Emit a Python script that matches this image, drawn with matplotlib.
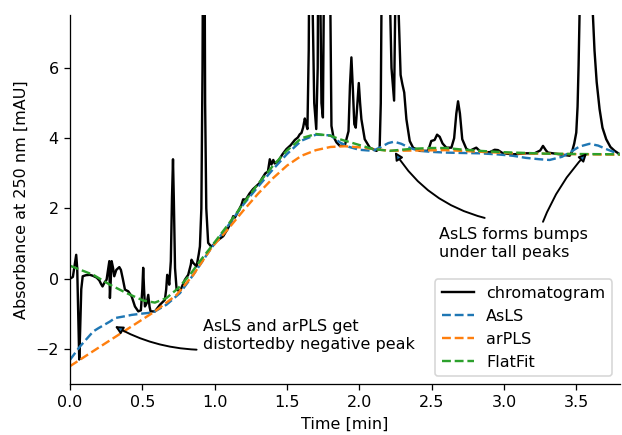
import matplotlib
matplotlib.use('Agg')
import matplotlib.pyplot as plt

# ---------------- data ----------------
chrom_t = [0.000, 0.020, 0.035, 0.043, 0.050, 0.058, 0.064, 0.070, 0.078, 0.088,
           0.110, 0.138, 0.160, 0.185, 0.203, 0.215, 0.225, 0.240, 0.253, 0.265,
           0.272, 0.276, 0.282, 0.288, 0.298, 0.306, 0.320, 0.341, 0.352, 0.365,
           0.380, 0.403, 0.426, 0.449, 0.472, 0.490, 0.500, 0.506, 0.512, 0.518,
           0.530, 0.541, 0.550, 0.557, 0.587, 0.622, 0.656, 0.665, 0.672, 0.680,
           0.686, 0.697, 0.705, 0.712, 0.718, 0.726, 0.737, 0.760, 0.794, 0.817,
           0.835, 0.840, 0.852, 0.875, 0.890, 0.898, 0.908, 0.916, 0.922, 0.928,
           0.934, 0.942, 0.955, 0.975, 0.990, 1.000, 1.030, 1.059, 1.090, 1.115,
           1.128, 1.140, 1.160, 1.185, 1.197, 1.215, 1.240, 1.265, 1.289, 1.310,
           1.324, 1.350, 1.368, 1.381, 1.392, 1.405, 1.415, 1.439, 1.470, 1.496,
           1.525, 1.554, 1.575, 1.588, 1.600, 1.611, 1.623, 1.632, 1.641, 1.650,
           1.658, 1.668, 1.676, 1.688, 1.702, 1.712, 1.720, 1.728, 1.738, 1.748,
           1.753, 1.760, 1.767, 1.776, 1.784, 1.792, 1.800, 1.807, 1.820, 1.842,
           1.865, 1.900, 1.925, 1.935, 1.945, 1.955, 1.965, 1.975, 1.985, 1.996,
           2.005, 2.014, 2.037, 2.072, 2.118, 2.140, 2.148, 2.155, 2.170, 2.200,
           2.214, 2.222, 2.240, 2.250, 2.262, 2.272, 2.285, 2.297, 2.310, 2.325,
           2.348, 2.371, 2.417, 2.475, 2.497, 2.520, 2.537, 2.555, 2.575, 2.601,
           2.636, 2.655, 2.670, 2.682, 2.695, 2.711, 2.739, 2.762, 2.808, 2.831,
           2.854, 2.900, 2.935, 2.958, 2.992, 3.062, 3.154, 3.211, 3.250, 3.269,
           3.290, 3.303, 3.384, 3.453, 3.470, 3.485, 3.499, 3.508, 3.515, 3.522,
           3.535, 3.555, 3.575, 3.600, 3.614, 3.625, 3.640, 3.660, 3.680, 3.706,
           3.735, 3.764, 3.800]
chrom_y = [0.00, 0.05, 0.45, 0.68, 0.30, -1.20, -2.30, -1.50, -0.30, 0.07,
           0.10, 0.11, 0.08, 0.03, -0.05, -0.15, -0.22, -0.10, -0.03, 0.30,
           0.50, -0.55, 0.00, 0.50, 0.30, 0.07, 0.25, 0.33, 0.25, 0.00,
           -0.31, -0.36, -0.50, -0.79, -0.93, -0.90, -0.30, 0.31, -0.30, -0.79,
           -0.70, -0.46, -0.80, -0.93, -0.93, -0.74, -0.60, -0.30, 0.11, 0.00,
           -0.17, 0.50, 2.30, 3.40, 2.20, 0.30, -0.31, -0.36, -0.03, 0.11,
           0.40, 0.54, 0.45, 0.35, 0.70, 0.92, 2.00, 6.00, 12.0, 12.0,
           5.00, 2.00, 1.02, 0.92, 0.95, 1.02, 1.12, 1.21, 1.42, 1.62,
           1.78, 1.74, 1.90, 2.10, 2.26, 2.25, 2.42, 2.55, 2.64, 2.72,
           2.83, 3.00, 3.05, 3.40, 3.25, 3.38, 3.28, 3.35, 3.55, 3.69,
           3.80, 3.95, 4.02, 4.11, 4.15, 4.30, 4.56, 4.40, 4.26, 6.50,
           12.0, 14.0, 8.00, 5.00, 4.26, 6.00, 13.0, 9.00, 5.00, 4.59,
           7.00, 12.0, 9.00, 8.00, 10.0, 12.0, 7.50, 4.35, 4.05, 3.88,
           3.78, 3.80, 4.20, 5.50, 6.30, 5.40, 4.40, 4.30, 4.90, 5.57,
           5.00, 4.54, 3.97, 3.73, 3.64, 3.70, 5.00, 9.00, 14.0, 10.0,
           7.50, 6.00, 5.07, 8.50, 10.0, 7.50, 5.80, 5.54, 5.30, 4.54,
           3.92, 3.73, 3.64, 3.64, 3.92, 3.95, 4.10, 4.04, 3.85, 3.73,
           3.73, 4.00, 4.70, 5.05, 4.70, 3.97, 3.70, 3.64, 3.73, 3.64,
           3.61, 3.60, 3.67, 3.66, 3.57, 3.54, 3.57, 3.57, 3.65, 3.78,
           3.65, 3.59, 3.54, 3.50, 3.62, 3.85, 4.16, 4.90, 6.07, 7.50,
           11.0, 14.0, 12.0, 8.60, 7.50, 6.50, 5.60, 4.83, 4.30, 3.97,
           3.75, 3.64, 3.54]

asls_t = [0.000, 0.069, 0.161, 0.196, 0.276, 0.311, 0.391, 0.426, 0.506, 0.552,
          0.587, 0.667, 0.760, 0.852, 0.978, 1.100, 1.200, 1.300, 1.400, 1.500,
          1.600, 1.700, 1.800, 1.865, 1.930, 2.000, 2.094, 2.150, 2.200, 2.240,
          2.290, 2.350, 2.417, 2.500, 2.600, 2.700, 2.830, 2.950, 3.060, 3.150,
          3.246, 3.315, 3.400, 3.453, 3.520, 3.590, 3.650, 3.706, 3.800]
asls_y = [-2.31, -1.93, -1.50, -1.41, -1.22, -1.12, -1.06, -1.03, -0.99, -0.97,
          -0.93, -0.74, -0.41, 0.11, 0.88, 1.55, 2.12, 2.62, 3.10, 3.55,
          3.93, 4.10, 4.08, 3.88, 3.75, 3.67, 3.64, 3.75, 3.86, 3.90,
          3.84, 3.72, 3.64, 3.61, 3.59, 3.58, 3.57, 3.54, 3.50, 3.44,
          3.40, 3.38, 3.47, 3.59, 3.76, 3.84, 3.79, 3.69, 3.54]

arpls_t = [0.000, 0.161, 0.391, 0.587, 0.737, 0.852, 0.978, 1.100, 1.200, 1.300,
           1.400, 1.500, 1.600, 1.700, 1.800, 1.900, 2.000, 2.100, 2.210, 2.400,
           2.600, 2.800, 3.060, 3.400, 3.800]
arpls_y = [-2.49, -2.06, -1.45, -0.93, -0.46, 0.11, 0.88, 1.45, 1.95, 2.42,
           2.85, 3.22, 3.50, 3.66, 3.75, 3.77, 3.74, 3.69, 3.64, 3.65,
           3.66, 3.62, 3.57, 3.55, 3.53]

flat_t = [0.000, 0.161, 0.276, 0.391, 0.506, 0.587, 0.667, 0.748, 0.829, 0.898,
          0.978, 1.100, 1.200, 1.300, 1.400, 1.500, 1.600, 1.700, 1.800, 1.865,
          1.980, 2.094, 2.210, 2.371, 2.500, 2.600, 2.700, 2.830, 3.000, 3.290,
          3.500, 3.800]
flat_y = [0.37, 0.11, -0.17, -0.41, -0.62, -0.68, -0.55, -0.27, 0.11, 0.50,
          0.92, 1.58, 2.15, 2.70, 3.20, 3.65, 4.00, 4.12, 4.07, 3.97,
          3.83, 3.69, 3.64, 3.70, 3.72, 3.72, 3.68, 3.64, 3.60, 3.56,
          3.55, 3.54]

x_ticks = [0.0, 0.5, 1.0, 1.5, 2.0, 2.5, 3.0, 3.5]
y_ticks = [-2, 0, 2, 4, 6]

# ---------------- figure ----------------
DPI = 115
fig = plt.figure(figsize=(622 / DPI, 435 / DPI), dpi=DPI)
ax = fig.add_axes([0.1125, 0.117, 0.884, 0.848])

ax.plot(chrom_t, chrom_y, color='black', label='chromatogram')
ax.plot(asls_t, asls_y, '--', color='C0', label='AsLS')
ax.plot(arpls_t, arpls_y, '--', color='C1', label='arPLS')
ax.plot(flat_t, flat_y, '--', color='C2', label='FlatFit')

ax.set_xlim(0, 3.8)
ax.set_ylim(-3, 7.5)
ax.set_xticks(x_ticks)
ax.set_yticks(y_ticks)
ax.spines['top'].set_visible(False)
ax.spines['right'].set_visible(False)
ax.set_xlabel('Time [min]')
ax.set_ylabel('Absorbance at 250 nm [mAU]')

ax.legend(loc='lower right')

arrow_kw = dict(arrowstyle='-|>', fc='C0', ec='black', lw=1.2,
                shrinkA=0, shrinkB=0)
ax.text(0.92, -1.62, 'AsLS and arPLS get\ndistortedby negative peak',
        ha='left', va='center')
ax.annotate('', xy=(0.31, -1.35), xytext=(0.875, -2.02),
            arrowprops=dict(connectionstyle='arc3,rad=-0.12', **arrow_kw))

ax.text(2.548, 1.0, 'AsLS forms bumps\nunder tall peaks',
        ha='left', va='center')
ax.annotate('', xy=(2.245, 3.61), xytext=(2.866, 1.73),
            arrowprops=dict(connectionstyle='arc3,rad=-0.2', **arrow_kw))
ax.annotate('', xy=(3.573, 3.57), xytext=(3.269, 1.62),
            arrowprops=dict(connectionstyle='arc3,rad=-0.1', **arrow_kw))

fig.savefig('out.png', dpi=DPI)
